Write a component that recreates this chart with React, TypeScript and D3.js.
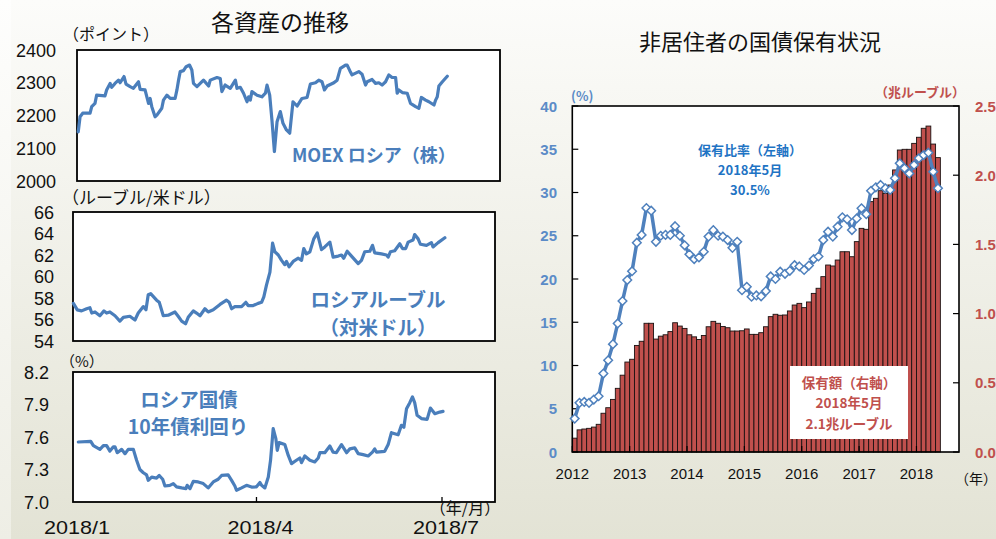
import React from 'react';
import * as d3 from 'd3';

// ---------- Left panels: daily-ish series, x = day offset from 2018-01-01 ----------
const moexDays = [0.6,1.5,2.8,6.4,7.2,8.8,9.6,13.7,14.5,16.2,17,18.6,20.3,21.1,23,24,26,27.6,30.1,30.9,33.3,35,35.8,36.6,38.2,39.1,41.5,42.3,44,45.6,48,48.9,49.7,50.5,52.1,53.4,55.1,56.2,57,58.7,60.3,61.9,64.4,65.2,68.5,70.1,70.9,72.5,75,77.5,78.3,79.9,81.5,83.2,84,84.8,85.6,88.1,90.5,92.2,93,94.3,95.4,96.6,97.9,99.5,100.8,102.5,104.1,105.7,107.7,110.1,112.6,114.2,116.7,118.3,119.9,121.1,122.4,125.7,127.3,128.9,131.4,132.2,133.5,134.6,137.9,139.5,141.2,142,144.4,146.1,147.7,149.3,151,152.6,154.2,155.9,156.7,157.5,159.2,161.6,163.2,165.7,167.3,168.5,170.6,172.2,174.7,175.5,176.3,177.1,178.8,181.2];
const moexValues = [2150,2196,2207,2207,2227,2237,2262,2260,2278,2298,2286,2298,2308,2300,2319,2296,2288,2283,2303,2280,2278,2237,2252,2227,2196,2201,2222,2247,2262,2252,2252,2278,2308,2334,2337,2349,2354,2339,2298,2288,2298,2308,2290,2308,2316,2313,2273,2293,2283,2308,2283,2286,2268,2242,2257,2247,2273,2262,2257,2268,2293,2262,2186,2090,2181,2212,2176,2156,2146,2242,2229,2252,2255,2296,2300,2308,2303,2278,2290,2300,2308,2344,2354,2354,2337,2324,2334,2326,2293,2303,2310,2298,2300,2293,2303,2324,2316,2316,2268,2278,2270,2268,2237,2227,2222,2255,2247,2242,2232,2247,2257,2290,2303,2320];

const rubleDays = [0.2,2.1,4.2,6.7,8.3,9.2,10.8,13.2,15.2,16.5,18.1,20.6,23,24.7,27.9,30.4,32,34.5,35.8,36.9,38.1,41,42.3,44.3,46.7,50,51.6,53.3,55.2,56.5,59,60.6,62.3,64.7,66.3,68.8,72.1,75.3,76.6,77.8,79.4,82.7,84.8,85.9,88.4,90.8,92.5,93.6,94.9,96.6,97.9,99,100.7,102.3,103.9,104.7,106,108,110.5,112.1,113.2,114.5,116.2,118.1,119.8,121.9,123.5,126,127.6,130.1,131.7,132.8,134.5,136.6,139.9,141.5,143.1,145.6,146.9,148,151.3,153.8,154.6,155.7,157.8,160.3,161.6,163.2,164.4,166.8,167.6,169.3,170.4,173.4,175.8,176.6,179.1,182.4];
const rubleValues = [57.5,56.9,56.8,57.0,57.1,56.6,56.7,56.35,56.8,56.6,56.7,56.35,55.85,56.2,56.3,55.95,56.6,57.2,56.9,58.3,58.4,57.8,57.6,56.35,56.4,56.7,56.3,55.85,55.6,56.2,56.8,56.6,56.35,57.0,56.7,56.9,57.4,57.8,57.6,57.0,57.2,57.2,57.6,57.3,57.3,57.5,57.6,58.1,59.2,60.4,63.1,62.3,62.0,61.5,61.1,61.4,60.9,61.4,61.7,61.5,62.6,62.1,62.3,63.5,64.05,62.5,62.75,63.2,61.8,61.9,62.0,61.7,62.35,61.9,61.2,61.5,62.3,62.35,62.9,62.2,62.1,62.0,61.8,62.3,62.4,63.05,62.6,62.6,63.2,63.4,63.9,63.5,63.0,62.9,63.15,62.75,63.15,63.6];

const yieldDays = [2.6,8.7,10,13.2,14.9,16.5,18.1,19.8,20.6,21.7,23.9,25.5,27.1,29.6,31.2,32.8,34.5,36.1,36.9,38.6,41,42.3,44,45.1,47.5,49.2,50.8,53.3,55.4,56,57.4,59,61.4,63.9,66.3,68.8,71.2,72.9,76.1,77.8,79.4,80.2,82.7,85.1,87.6,90,91.7,92.5,94.1,95.8,96.9,98.2,99.5,100.2,101.1,103.9,105.6,107.2,109.6,111.3,112.1,113.7,116.2,118.6,120.3,121.1,123.5,126,127.6,129.2,131.7,134.2,135.8,138.2,139.9,142.3,144.8,146.9,148,148.9,152.9,154.6,156.2,157.8,159.5,161.1,162.3,163.6,165.2,166.5,167.6,168.8,170.9,173.7,175.3,177.5,179.9,181.5];
const yieldValues = [7.554,7.56,7.52,7.486,7.52,7.52,7.47,7.51,7.51,7.455,7.486,7.446,7.486,7.486,7.385,7.30,7.27,7.25,7.2,7.23,7.22,7.245,7.21,7.148,7.154,7.17,7.14,7.13,7.123,7.154,7.123,7.19,7.185,7.17,7.13,7.185,7.21,7.245,7.25,7.2,7.148,7.108,7.13,7.154,7.138,7.14,7.18,7.154,7.13,7.23,7.385,7.677,7.585,7.477,7.548,7.53,7.43,7.354,7.385,7.406,7.363,7.425,7.385,7.37,7.406,7.455,7.455,7.517,7.46,7.455,7.53,7.455,7.49,7.5,7.446,7.437,7.425,7.46,7.49,7.46,7.468,7.53,7.64,7.63,7.62,7.708,7.69,7.86,7.917,7.97,7.917,7.8,7.77,7.763,7.867,7.815,7.83,7.837];

const moexTicks = [2000, 2100, 2200, 2300, 2400];
const rubleTicks = [54, 56, 58, 60, 62, 64, 66];
const yieldTicks = [7.0, 7.3, 7.6, 7.9, 8.2];
const dateTickLabels = ['2018/1', '2018/4', '2018/7'];
const dateTickDays = [0, 90, 181];

// ---------- Right chart: monthly, Jan 2012 .. May 2018 ----------
const holdingsTrn = [0.10,0.16,0.166,0.171,0.18,0.20,0.28,0.32,0.38,0.46,0.555,0.65,
  0.67,0.77,0.80,0.93,0.93,0.816,0.837,0.847,0.87,0.934,0.91,0.893,
  0.847,0.832,0.813,0.842,0.905,0.944,0.93,0.907,0.898,0.874,0.874,0.876,
  0.889,0.85,0.85,0.862,0.905,0.978,0.995,0.988,0.99,1.019,1.062,1.074,
  1.043,1.084,1.146,1.183,1.267,1.351,1.344,1.387,1.447,1.447,1.411,1.52,
  1.616,1.609,1.809,1.833,1.888,1.869,1.929,2.038,2.182,2.187,2.187,2.23,
  2.274,2.339,2.355,2.225,2.127];
const shareLeft = [3.86,5.68,5.79,5.68,6.06,6.45,9.07,10.6,12.47,14.86,17.45,19.88,
  20.9,24.2,25.1,28.2,27.9,24.3,25.0,25.1,25.1,26.1,25.0,23.9,
  22.85,22.3,22.5,23.15,24.9,25.65,25.0,24.9,24.5,23.6,24.3,18.7,
  19.1,17.95,18.1,18.0,18.6,20.3,20.0,20.85,20.6,20.95,21.6,21.45,
  21.04,21.55,22.3,22.6,24.5,25.47,24.9,26.05,27.13,26.9,25.66,27.0,
  28.17,27.5,30.2,30.6,30.87,30.48,30.3,31.64,33.37,32.8,32.2,33.18,
  33.95,34.33,34.6,32.4,30.5];
const yearLabels = ['2012', '2013', '2014', '2015', '2016', '2017', '2018'];
const leftPctTicks = [0, 5, 10, 15, 20, 25, 30, 35, 40];
const rightTrnTicks = [0, 0.5, 1.0, 1.5, 2.0, 2.5];

const JP = '"Noto Sans CJK JP", "Noto Sans", sans-serif';
const NUM = '"Liberation Sans", Arial, sans-serif';
const LBLUE = '#4a7ebb';
const RBLUE = '#4f81bd';
const RED = '#c0504d';

const start2018 = new Date(2018, 0, 1).getTime();
const dayToDate = (d: number) => new Date(start2018 + d * 86400000);

type PanelProps = {
  x0: number; x1: number; y0: number; y1: number;
  domain: [number, number]; ticks: number[]; fmt: (v: number) => string;
  labelRight: number; days: number[]; values: number[]; showDateTicks?: boolean;
};

function Panel(p: PanelProps) {
  const x = d3.scaleTime().domain([new Date(2018, 0, 1), new Date(2018, 6, 27)]).range([p.x0, p.x1]);
  const y = d3.scaleLinear().domain(p.domain).range([p.y1, p.y0]);
  const pts = p.days.map((d, i) => [x(dayToDate(d)), y(p.values[i])] as [number, number]);
  const line = d3.line().curve(d3.curveLinear)(pts) || '';
  return (
    <g>
      <rect x={p.x0} y={p.y0} width={p.x1 - p.x0} height={p.y1 - p.y0} fill="#fff" stroke="#000" strokeWidth={1.8} />
      {p.ticks.map((t) => (
        <text key={t} x={p.labelRight} y={y(t) + 6.5} textAnchor="end" fontFamily={NUM} fontSize={18} fill="#111">{p.fmt(t)}</text>
      ))}
      {p.showDateTicks && dateTickDays.slice(1).map((d) => (
        <line key={d} x1={x(dayToDate(d))} x2={x(dayToDate(d))} y1={p.y1} y2={p.y1 - 5} stroke="#000" strokeWidth={1.3} />
      ))}
      <path d={line} fill="none" stroke={LBLUE} strokeWidth={3.2} strokeLinejoin="round" strokeLinecap="round" />
    </g>
  );
}

function LeftSide() {
  const xDates = d3.scaleTime().domain([new Date(2018, 0, 1), new Date(2018, 6, 27)]).range([73, 495]);
  return (
    <g>
      <text x={280} y={31} textAnchor="middle" fontFamily={JP} fontSize={23} fill="#111">各資産の推移</text>
      <text x={63} y={40} fontFamily={JP} fontSize={16} fill="#111">（ポイント）</text>
      <Panel x0={77} x1={500} y0={50} y1={181} domain={[2000, 2400]} ticks={moexTicks} fmt={(v) => String(v)}
        labelRight={56} days={moexDays} values={moexValues} />
      <text x={292} y={162} fontFamily={JP} fontSize={18} fontWeight={700} fill={LBLUE}>MOEX ロシア（株）</text>

      <text x={62} y={204} fontFamily={JP} fontSize={17} fill="#111">（ルーブル/米ドル）</text>
      <Panel x0={73} x1={495} y0={212} y1={341} domain={[54, 66]} ticks={rubleTicks} fmt={(v) => String(v)}
        labelRight={54} days={rubleDays} values={rubleValues} />
      <text x={378} y={307} textAnchor="middle" fontFamily={JP} fontSize={19.5} fontWeight={700} fill={LBLUE}>ロシアルーブル</text>
      <text x={378} y={335} textAnchor="middle" fontFamily={JP} fontSize={19.5} fontWeight={700} fill={LBLUE}>（対米ドル）</text>

      <text x={60} y={367} fontFamily={JP} fontSize={15} fill="#111">（%）</text>
      <Panel x0={73} x1={495} y0={372} y1={502} domain={[7.0, 8.2]} ticks={yieldTicks} fmt={(v) => v.toFixed(1)}
        labelRight={49} days={yieldDays} values={yieldValues} showDateTicks />
      <text x={189} y={407} textAnchor="middle" fontFamily={JP} fontSize={19.5} fontWeight={700} fill={LBLUE}>ロシア国債</text>
      <text x={188} y={434} textAnchor="middle" fontFamily={JP} fontSize={19.5} fontWeight={700} fill={LBLUE}>10年債利回り</text>

      <text x={465} y={514} textAnchor="middle" fontFamily={JP} fontSize={16} fill="#111">（年/月）</text>
      {dateTickLabels.map((l, i) => (
        <text key={l} x={xDates(dayToDate(dateTickDays[i])) + 4} y={534} textAnchor="middle"
          fontFamily={NUM} fontSize={19} fill="#111" textLength={66} lengthAdjust="spacingAndGlyphs">{l}</text>
      ))}
    </g>
  );
}

function RightSide() {
  const left = 572.3, right = 959, top = 106, bottom = 452;
  const monthW = 4.78;
  const months = d3.timeMonth.range(new Date(2012, 0, 1), new Date(2018, 5, 1));
  const x = d3.scaleLinear().domain([0, (right - left) / monthW]).range([left, right]);
  const yL = d3.scaleLinear().domain([0, 40]).range([bottom, top]);
  const yR = d3.scaleLinear().domain([0, 2.5]).range([bottom, top]);
  const linePts = shareLeft.map((v, i) => [x(i + 0.5), yL(v)] as [number, number]);
  const linePath = d3.line()(linePts) || '';
  const yearIdx = yearLabels.map((_, i) => i * 12);
  const dm = 4.3;
  return (
    <g>
      <text x={760} y={50} textAnchor="middle" fontFamily={JP} fontSize={22} fill="#111">非居住者の国債保有状況</text>
      <rect x={left} y={top} width={right - left} height={bottom - top} fill="#fff" />
      {months.map((m, i) => (
        <rect key={i} x={x(i)} y={yR(holdingsTrn[i])} width={x(i + 1) - x(i)} height={bottom - yR(holdingsTrn[i])}
          fill={RED} stroke="#1a1111" strokeWidth={0.9} />
      ))}
      <rect x={left} y={top} width={right - left} height={bottom - top} fill="none" stroke="#000" strokeWidth={1.6} />
      {leftPctTicks.map((t) => (
        <g key={t}>
          <line x1={left} x2={left + 6} y1={yL(t)} y2={yL(t)} stroke="#000" strokeWidth={1.2} />
          <text x={557} y={yL(t) + 5.5} textAnchor="end" fontFamily={NUM} fontSize={15} fontWeight={700} fill="#5b8bc7">{t}</text>
        </g>
      ))}
      {rightTrnTicks.map((t) => (
        <g key={t}>
          <line x1={right - 6} x2={right} y1={yR(t)} y2={yR(t)} stroke="#000" strokeWidth={1.2} />
          <text x={975} y={yR(t) + 5.5} fontFamily={NUM} fontSize={15} fontWeight={700} fill={RED}>{t.toFixed(1)}</text>
        </g>
      ))}
      {yearLabels.map((l, i) => (
        <g key={l}>
          <line x1={x(yearIdx[i])} x2={x(yearIdx[i])} y1={bottom} y2={bottom - 6} stroke="#000" strokeWidth={1.2} />
          <text x={x(yearIdx[i])} y={479} textAnchor="middle" fontFamily={NUM} fontSize={15} fill="#111">{l}</text>
        </g>
      ))}
      <text x={976} y={484} textAnchor="middle" fontFamily={JP} fontSize={14} fill="#111">（年）</text>
      <path d={linePath} fill="none" stroke={RBLUE} strokeWidth={3.5} strokeLinejoin="round" />
      {linePts.map(([px, py], i) => (
        <path key={i} d={`M${px},${py - dm}L${px + dm},${py}L${px},${py + dm}L${px - dm},${py}Z`}
          fill="#fff" stroke={RBLUE} strokeWidth={1.5} />
      ))}
      <text x={571} y={101} fontFamily={JP} fontSize={13} fontWeight={700} fill="#5b8bc7">(%)</text>
      <text x={920} y={97} textAnchor="middle" fontFamily={JP} fontSize={13} fontWeight={700} fill={RED}>（兆ルーブル）</text>

      <text x={750} y={155} textAnchor="middle" fontFamily={JP} fontSize={13} fontWeight={700} fill="#1f74c4">保有比率（左軸）</text>
      <text x={750} y={175} textAnchor="middle" fontFamily={JP} fontSize={13} fontWeight={700} fill="#1f74c4">2018年5月</text>
      <text x={750} y={195} textAnchor="middle" fontFamily={JP} fontSize={13} fontWeight={700} fill="#1f74c4">30.5%</text>

      <rect x={790} y={366} width={118} height={73} fill="#fff" />
      <text x={849} y={388} textAnchor="middle" fontFamily={JP} fontSize={13.5} fontWeight={700} fill={RED}>保有額（右軸）</text>
      <text x={849} y={408} textAnchor="middle" fontFamily={JP} fontSize={13.5} fontWeight={700} fill={RED}>2018年5月</text>
      <text x={849} y={429} textAnchor="middle" fontFamily={JP} fontSize={13.5} fontWeight={700} fill={RED}>2.1兆ルーブル</text>
    </g>
  );
}

export default function App() {
  return (
    <svg width={996} height={539} viewBox="0 0 996 539"
      style={{ position: 'fixed', left: 0, top: 0, display: 'block' }}>
      <defs>
        <linearGradient id="bg" x1="0" y1="0" x2="0" y2="1">
          <stop offset="0" stopColor="#fcfcfa" />
          <stop offset="1" stopColor="#e3e3d5" />
        </linearGradient>
        <linearGradient id="bgL" x1="0" y1="0" x2="0" y2="1">
          <stop offset="0" stopColor="#fefefd" />
          <stop offset="1" stopColor="#eeeee5" />
        </linearGradient>
      </defs>
      <rect x={0} y={0} width={996} height={539} fill="url(#bg)" />
      <rect x={0} y={0} width={11} height={539} fill="url(#bgL)" />
      <LeftSide />
      <RightSide />
    </svg>
  );
}
